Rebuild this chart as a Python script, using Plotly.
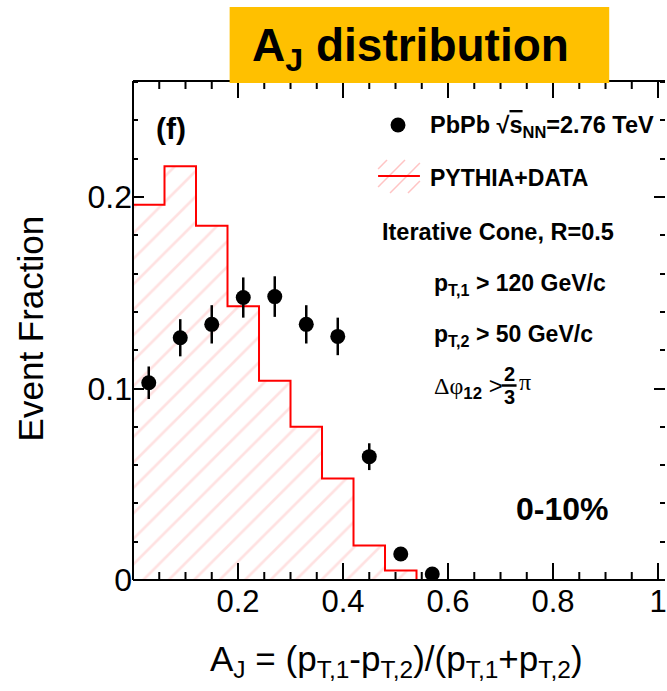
import plotly.graph_objects as go

# ---------------- data ----------------
bin_edges = [0.0, 0.06, 0.12, 0.18, 0.24, 0.30, 0.36, 0.42, 0.48, 0.54]
pythia_vals = [0.196, 0.216, 0.185, 0.143, 0.104, 0.080, 0.053, 0.018, 0.005]

aj_centers = [0.03, 0.09, 0.15, 0.21, 0.27, 0.33, 0.39, 0.45, 0.51, 0.57]
pbpb_vals = [0.103, 0.1265, 0.1335, 0.1475, 0.148, 0.1335, 0.1272, 0.0644, 0.0136, 0.0031]
pbpb_errs = [0.0085, 0.0097, 0.0100, 0.0105, 0.0106, 0.0100, 0.0098, 0.0070, 0.0030, 0.0015]

x_tickvals = [0.2, 0.4, 0.6, 0.8, 1.0]
x_ticktext = ["0.2", "0.4", "0.6", "0.8", "1"]
x_minor_step = 0.05
y_tickvals = [0.0, 0.1, 0.2]
y_ticktext = ["0", "0.1", "0.2"]

FONT = "Liberation Sans"
SERIF = "Liberation Serif"
HATCH = "#FFC4C4"
W, H = 667, 691
L, R, T, B = 133, 0, 81, 111
PW, PH = W - L - R, H - T - B
X_PX_PER_UNIT = 527.0
Y_PX_PER_UNIT = 1915.0
XR = [0, PW / X_PX_PER_UNIT]
YR = [0, PH / Y_PX_PER_UNIT]


def px(x):
    return (x - L) / PW


def py(y):
    return (H - B - y) / PH


fig = go.Figure()

# histogram (step) with hatched fill
step_x = bin_edges
step_y = pythia_vals + [0.0]
fig.add_trace(go.Scatter(
    x=step_x, y=step_y, mode="lines", line=dict(color="#FF0000", width=2, shape="hv"),
    fill="tozeroy", fillcolor="rgba(0,0,0,0)",
    fillpattern=dict(shape="/", fgcolor=HATCH, bgcolor="rgba(0,0,0,0)",
                     size=18, solidity=0.15),
    showlegend=False, hoverinfo="skip"))

# data points
fig.add_trace(go.Scatter(
    x=aj_centers, y=pbpb_vals, mode="markers",
    marker=dict(color="black", size=15),
    error_y=dict(type="data", array=pbpb_errs, thickness=2.5, width=0, color="black"),
    showlegend=False))

# x-axis tick marks (bottom and mirrored top) built from the tick arrays
n_minor = int(round(x_tickvals[-1] / x_minor_step))
tx, ty = [], []
for k in range(1, n_minor + 1):
    v = k * x_minor_step
    major = any(abs(v - t) < 1e-9 for t in x_tickvals)
    tl = (17 if major else 8) / Y_PX_PER_UNIT
    tx += [v, v, None, v, v, None]
    ty += [YR[0], YR[0] + tl, None, YR[1], YR[1] - tl, None]
fig.add_trace(go.Scatter(x=tx, y=ty, mode="lines", line=dict(color="black", width=2),
                         connectgaps=False, cliponaxis=False, showlegend=False,
                         hoverinfo="skip"))

fig.update_layout(
    width=W, height=H, margin=dict(l=L, r=R, t=T, b=B),
    paper_bgcolor="white", plot_bgcolor="white",
    font=dict(family=FONT, color="black"),
    xaxis=dict(range=XR, showgrid=False, zeroline=False, showline=False,
               mirror="ticks", ticks="inside", ticklen=17, tickwidth=2,
               tickcolor="black", tickmode="array", tickvals=x_tickvals, ticktext=x_ticktext,
               tickfont=dict(size=31, family=FONT), ticklabeloverflow="allow"),
    yaxis=dict(range=YR, showgrid=False, zeroline=False, showline=False,
               mirror="ticks", ticks="inside", ticklen=11, tickwidth=2,
               tickcolor="black", tickmode="array", tickvals=y_tickvals, ticktext=y_ticktext,
               tickfont=dict(size=32, family=FONT), ticklabeloverflow="allow",
               minor=dict(tickmode="linear", tick0=0, dtick=0.02, ticks="inside", ticklen=5,
                          tickwidth=2, tickcolor="black", showgrid=False)),
)

shapes = []
# frame lines: left, bottom, top (no right line in the reference)
frame = [(0, 0, 0, 1), (0, 0, 1, 0), (0, 1, 1, 1)]
for fx0, fy0, fx1, fy1 in frame:
    shapes.append(dict(type="line", xref="paper", yref="paper", x0=fx0, y0=fy0,
                       x1=fx1, y1=fy1, line=dict(color="black", width=2), layer="above"))

# title box
shapes.append(dict(type="rect", xref="paper", yref="paper", x0=px(230), x1=px(611),
                   y0=py(83), y1=py(7), fillcolor="#FFC000", line=dict(width=0),
                   layer="above"))
# legend marker
shapes.append(dict(type="circle", xref="paper", yref="paper", x0=px(391.5), x1=px(406.5),
                   y0=py(132.5), y1=py(117.5), fillcolor="black", line=dict(width=0)))
# legend hatch sample (diagonal lines clipped to the sample box)
bx0, bx1, by0, by1 = 379, 421, 160, 193
for c in (548, 566, 584, 602):
    xa = max(bx0, c - by1)
    xb = min(bx1, c - by0)
    if xb > xa:
        shapes.append(dict(type="line", xref="paper", yref="paper",
                           x0=px(xa), y0=py(c - xa), x1=px(xb), y1=py(c - xb),
                           line=dict(color=HATCH, width=1.5)))
# legend red line
shapes.append(dict(type="line", xref="paper", yref="paper", x0=px(379), x1=px(421),
                   y0=py(176), y1=py(176), line=dict(color="#FF0000", width=2)))
# fraction bar
shapes.append(dict(type="line", xref="paper", yref="paper", x0=px(503), x1=px(518),
                   y0=py(385.5), y1=py(385.5), line=dict(color="black", width=2.5)))

annotations = []


def ann(text, x, y, size, xanchor="left", yanchor="middle", family=FONT, angle=0):
    annotations.append(dict(text=text, x=px(x), y=py(y), xref="paper", yref="paper",
                            xanchor=xanchor, yanchor=yanchor, showarrow=False,
                            textangle=angle, font=dict(size=size, family=family, color="black")))


ann("<b>A<sub>J</sub> distribution</b>", 412, 48, 46, xanchor="center")
ann("<b>(f)</b>", 154, 128, 30)
ann("<b>PbPb </b><b>√<span style='text-decoration:overline'>s</span><sub>NN</sub>=2.76 TeV</b>",
    429, 126, 23.5)
ann("<b>PYTHIA+DATA</b>", 429, 178, 23)
ann("<b>Iterative Cone, R=0.5</b>", 381, 232, 23.5)
ann("<b>p<sub>T,1</sub> > 120 GeV/c</b>", 433, 284, 23)
ann("<b>p<sub>T,2</sub> > 50 GeV/c</b>", 433, 335, 23)
ann("<span style='font-family:Liberation Serif'>Δφ</span><sub><b>12</b></sub> >",
    433, 387, 24)
ann("<b>2</b>", 510.5, 374, 20, xanchor="center")
ann("<b>3</b>", 510.5, 397, 20, xanchor="center")
ann("π", 518, 382, 24, family=SERIF)
ann("<b>0-10%</b>", 515, 509, 32)
ann("Event Fraction", 30, 328, 35, xanchor="center", angle=-90)
ann("A<sub>J</sub> = (p<sub>T,1</sub>-p<sub>T,2</sub>)/(p<sub>T,1</sub>+p<sub>T,2</sub>)",
    397, 661, 35, xanchor="center")

fig.update_layout(shapes=shapes, annotations=annotations)
fig.write_html("out.html")
